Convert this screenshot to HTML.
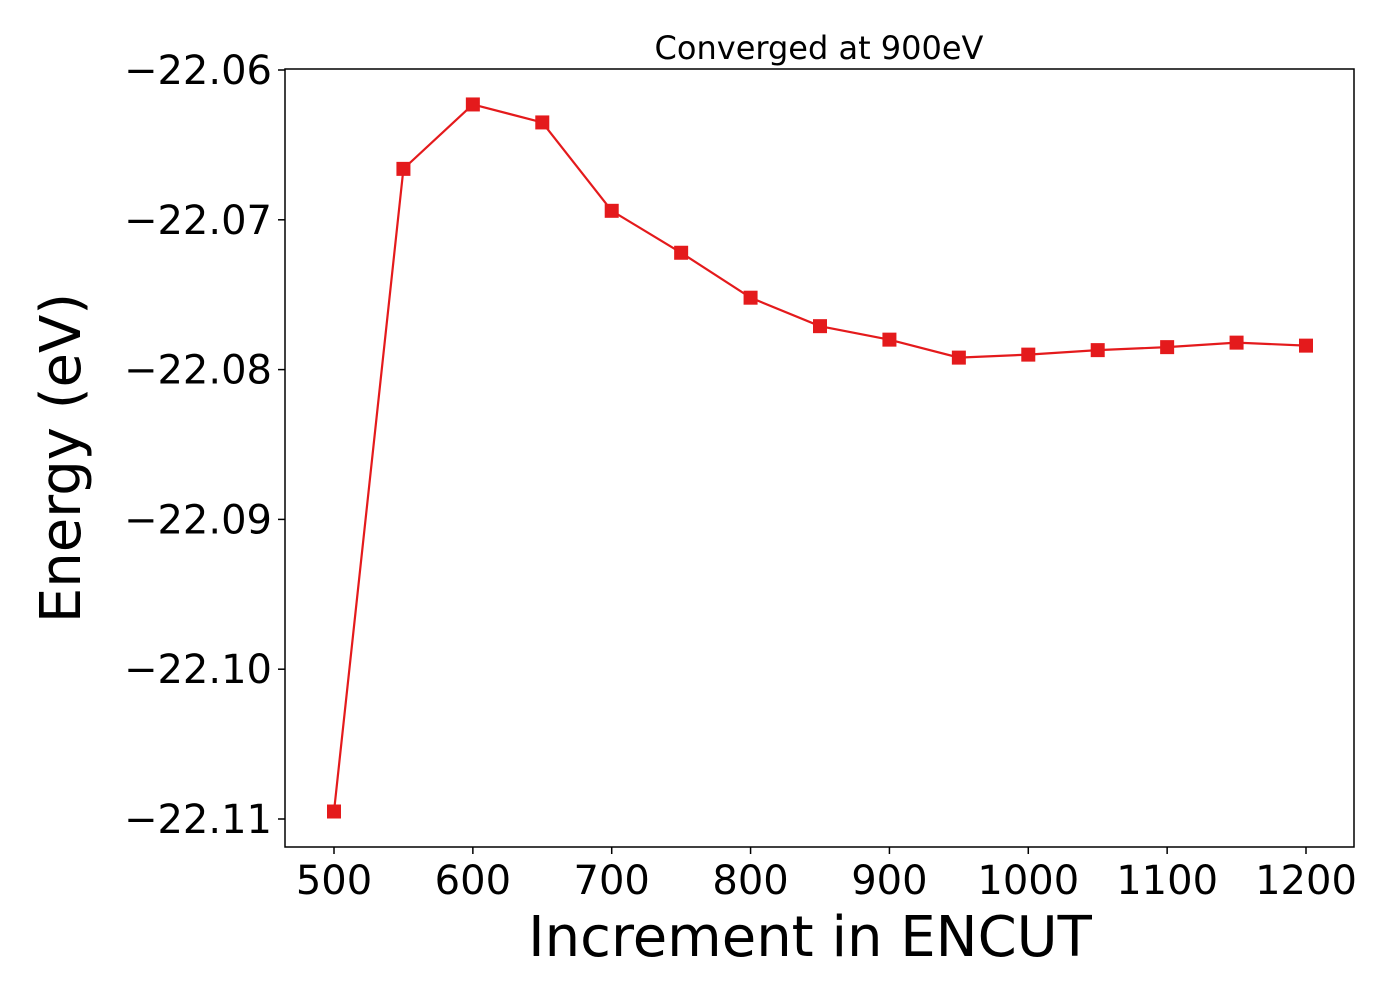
<!DOCTYPE html>
<html><head><meta charset="utf-8"><style>
body{margin:0;background:#fff}
svg text{font-family:"DejaVu Sans","Liberation Sans",sans-serif;fill:#000}
</style></head><body>
<svg id="chart" width="1400" height="1000" xmlns="http://www.w3.org/2000/svg">
<rect width="1400" height="1000" fill="#fff"/>
<text x="819" y="59" font-size="32" text-anchor="middle">Converged at 900eV</text>
<g id="xticks"></g>
<g id="yticks"></g>
<text x="810" y="956" font-size="56" text-anchor="middle">Increment in ENCUT</text>
<text transform="translate(80,458) rotate(-90)" font-size="56" text-anchor="middle">Energy (eV)</text>
<g id="series"></g>
<rect x="285" y="69" width="1069" height="778" fill="none" stroke="#000" stroke-width="1.5"/>
</svg>
<script>
const encut = [500,550,600,650,700,750,800,850,900,950,1000,1050,1100,1150,1200];
const energy = [-22.1095,-22.0666,-22.0623,-22.0635,-22.0694,-22.0722,-22.0752,-22.0771,-22.0780,-22.0792,-22.0790,-22.0787,-22.0785,-22.0782,-22.0784];
const xTicks = [500,600,700,800,900,1000,1100,1200];
const yTicks = [-22.06,-22.07,-22.08,-22.09,-22.10,-22.11];

const NS="http://www.w3.org/2000/svg";
function xs(v){return 334+(v-500)*(1306-334)/700;}
function ys(v){return 70+(-22.06-v)*14980;}
function mk(tag,attrs,parent){const e=document.createElementNS(NS,tag);for(const k in attrs)e.setAttribute(k,attrs[k]);parent.appendChild(e);return e;}

const xg=document.getElementById('xticks');
xTicks.forEach(t=>{
  const l=mk('line',{x1:xs(t),x2:xs(t),y1:847,y2:854,stroke:'#000','stroke-width':1.5},xg);
  
  
  const tx=mk('text',{x:xs(t),y:894,'font-size':40,'text-anchor':'middle'},xg);
  
  
  tx.textContent=t;
});
const yg=document.getElementById('yticks');
yTicks.forEach(t=>{
  const l=mk('line',{x1:278,x2:285,y1:ys(t),y2:ys(t),stroke:'#000','stroke-width':1.5},yg);
  
  
  const tx=mk('text',{x:272,y:ys(t)+14,'font-size':40,'text-anchor':'end'},yg);
  
  
  tx.textContent='\u2212'+Math.abs(t).toFixed(2);
});
const sg=document.getElementById('series');
const pl=mk('polyline',{points:encut.map((v,i)=>xs(v)+','+ys(energy[i])).join(' '),fill:'none',stroke:'#e41a1c','stroke-width':2.2},sg);


encut.forEach((v,i)=>{
  const r=mk('rect',{x:xs(v)-7,y:ys(energy[i])-7,width:14,height:14,fill:'#e41a1c'},sg);
  
  
});
</script>
</body></html>
